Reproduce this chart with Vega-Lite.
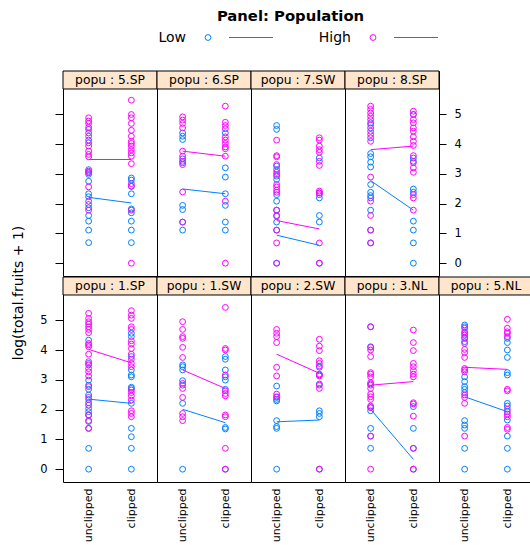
{
"$schema": "https://vega.github.io/schema/vega-lite/v6.json",
"padding": {"left": 12, "top": 9, "right": 0, "bottom": 0},
"spacing": 13,
"datasets": {
"panels": [{"popu":"5.SP"},{"popu":"6.SP"},{"popu":"7.SW"},{"popu":"8.SP"},{"popu":"1.SP"},{"popu":"1.SW"},{"popu":"2.SW"},{"popu":"3.NL"},{"popu":"5.NL"}],
"means": [
{"popu":"5.SP","amd":"unclipped","nutrient":"Low","y":2.21},{"popu":"5.SP","amd":"clipped","nutrient":"Low","y":2.02},{"popu":"5.SP","amd":"unclipped","nutrient":"High","y":3.48},{"popu":"5.SP","amd":"clipped","nutrient":"High","y":3.48},
{"popu":"6.SP","amd":"unclipped","nutrient":"Low","y":2.49},{"popu":"6.SP","amd":"clipped","nutrient":"Low","y":2.33},{"popu":"6.SP","amd":"unclipped","nutrient":"High","y":3.76},{"popu":"6.SP","amd":"clipped","nutrient":"High","y":3.59},
{"popu":"7.SW","amd":"unclipped","nutrient":"Low","y":0.94},{"popu":"7.SW","amd":"clipped","nutrient":"Low","y":0.6},{"popu":"7.SW","amd":"unclipped","nutrient":"High","y":1.43},{"popu":"7.SW","amd":"clipped","nutrient":"High","y":1.15},
{"popu":"8.SP","amd":"unclipped","nutrient":"Low","y":2.77},{"popu":"8.SP","amd":"clipped","nutrient":"Low","y":1.78},{"popu":"8.SP","amd":"unclipped","nutrient":"High","y":3.81},{"popu":"8.SP","amd":"clipped","nutrient":"High","y":3.93},
{"popu":"1.SP","amd":"unclipped","nutrient":"Low","y":2.35},{"popu":"1.SP","amd":"clipped","nutrient":"Low","y":2.21},{"popu":"1.SP","amd":"unclipped","nutrient":"High","y":4.02},{"popu":"1.SP","amd":"clipped","nutrient":"High","y":3.57},
{"popu":"1.SW","amd":"unclipped","nutrient":"Low","y":2.01},{"popu":"1.SW","amd":"clipped","nutrient":"Low","y":1.56},{"popu":"1.SW","amd":"unclipped","nutrient":"High","y":3.33},{"popu":"1.SW","amd":"clipped","nutrient":"High","y":2.71},
{"popu":"2.SW","amd":"unclipped","nutrient":"Low","y":1.59},{"popu":"2.SW","amd":"clipped","nutrient":"Low","y":1.65},{"popu":"2.SW","amd":"unclipped","nutrient":"High","y":3.86},{"popu":"2.SW","amd":"clipped","nutrient":"High","y":3.22},
{"popu":"3.NL","amd":"unclipped","nutrient":"Low","y":2.01},{"popu":"3.NL","amd":"clipped","nutrient":"Low","y":0.33},{"popu":"3.NL","amd":"unclipped","nutrient":"High","y":2.82},{"popu":"3.NL","amd":"clipped","nutrient":"High","y":2.94},
{"popu":"5.NL","amd":"unclipped","nutrient":"Low","y":2.43},{"popu":"5.NL","amd":"clipped","nutrient":"Low","y":1.93},{"popu":"5.NL","amd":"unclipped","nutrient":"High","y":3.42},{"popu":"5.NL","amd":"clipped","nutrient":"High","y":3.35}
],
"pts": [
{"popu":"5.SP","amd":"unclipped","nutrient":"Low","y":4.49},{"popu":"5.SP","amd":"unclipped","nutrient":"Low","y":4.26},{"popu":"5.SP","amd":"unclipped","nutrient":"Low","y":4.04},{"popu":"5.SP","amd":"unclipped","nutrient":"Low","y":3.14},{"popu":"5.SP","amd":"unclipped","nutrient":"Low","y":3.05},{"popu":"5.SP","amd":"unclipped","nutrient":"Low","y":2.98},{"popu":"5.SP","amd":"unclipped","nutrient":"Low","y":2.75},{"popu":"5.SP","amd":"unclipped","nutrient":"Low","y":2.33},{"popu":"5.SP","amd":"unclipped","nutrient":"Low","y":2.23},{"popu":"5.SP","amd":"unclipped","nutrient":"Low","y":1.97},{"popu":"5.SP","amd":"unclipped","nutrient":"Low","y":1.86},{"popu":"5.SP","amd":"unclipped","nutrient":"Low","y":1.6},{"popu":"5.SP","amd":"unclipped","nutrient":"Low","y":1.41},{"popu":"5.SP","amd":"unclipped","nutrient":"Low","y":1.11},{"popu":"5.SP","amd":"unclipped","nutrient":"Low","y":0.69},
{"popu":"5.SP","amd":"clipped","nutrient":"Low","y":2.86},{"popu":"5.SP","amd":"clipped","nutrient":"Low","y":2.79},{"popu":"5.SP","amd":"clipped","nutrient":"Low","y":2.58},{"popu":"5.SP","amd":"clipped","nutrient":"Low","y":2.33},{"popu":"5.SP","amd":"clipped","nutrient":"Low","y":1.82},{"popu":"5.SP","amd":"clipped","nutrient":"Low","y":1.69},{"popu":"5.SP","amd":"clipped","nutrient":"Low","y":1.41},{"popu":"5.SP","amd":"clipped","nutrient":"Low","y":1.11},{"popu":"5.SP","amd":"clipped","nutrient":"Low","y":0.69},
{"popu":"5.SP","amd":"unclipped","nutrient":"High","y":4.88},{"popu":"5.SP","amd":"unclipped","nutrient":"High","y":4.77},{"popu":"5.SP","amd":"unclipped","nutrient":"High","y":4.69},{"popu":"5.SP","amd":"unclipped","nutrient":"High","y":4.56},{"popu":"5.SP","amd":"unclipped","nutrient":"High","y":4.37},{"popu":"5.SP","amd":"unclipped","nutrient":"High","y":4.13},{"popu":"5.SP","amd":"unclipped","nutrient":"High","y":3.93},{"popu":"5.SP","amd":"unclipped","nutrient":"High","y":3.76},{"popu":"5.SP","amd":"unclipped","nutrient":"High","y":3.65},{"popu":"5.SP","amd":"unclipped","nutrient":"High","y":3.57},{"popu":"5.SP","amd":"unclipped","nutrient":"High","y":3.09},{"popu":"5.SP","amd":"unclipped","nutrient":"High","y":3.03},{"popu":"5.SP","amd":"unclipped","nutrient":"High","y":2.56},{"popu":"5.SP","amd":"unclipped","nutrient":"High","y":2.08},{"popu":"5.SP","amd":"unclipped","nutrient":"High","y":1.78},
{"popu":"5.SP","amd":"clipped","nutrient":"High","y":5.47},{"popu":"5.SP","amd":"clipped","nutrient":"High","y":4.99},{"popu":"5.SP","amd":"clipped","nutrient":"High","y":4.88},{"popu":"5.SP","amd":"clipped","nutrient":"High","y":4.69},{"popu":"5.SP","amd":"clipped","nutrient":"High","y":4.46},{"popu":"5.SP","amd":"clipped","nutrient":"High","y":4.26},{"popu":"5.SP","amd":"clipped","nutrient":"High","y":4.09},{"popu":"5.SP","amd":"clipped","nutrient":"High","y":4.02},{"popu":"5.SP","amd":"clipped","nutrient":"High","y":3.93},{"popu":"5.SP","amd":"clipped","nutrient":"High","y":3.81},{"popu":"5.SP","amd":"clipped","nutrient":"High","y":3.7},{"popu":"5.SP","amd":"clipped","nutrient":"High","y":3.59},{"popu":"5.SP","amd":"clipped","nutrient":"High","y":3.34},{"popu":"5.SP","amd":"clipped","nutrient":"High","y":2.67},{"popu":"5.SP","amd":"clipped","nutrient":"High","y":2.58},{"popu":"5.SP","amd":"clipped","nutrient":"High","y":1.78},{"popu":"5.SP","amd":"clipped","nutrient":"High","y":0},
{"popu":"6.SP","amd":"unclipped","nutrient":"Low","y":4.37},{"popu":"6.SP","amd":"unclipped","nutrient":"Low","y":4.26},{"popu":"6.SP","amd":"unclipped","nutrient":"Low","y":4.15},{"popu":"6.SP","amd":"unclipped","nutrient":"Low","y":3.5},{"popu":"6.SP","amd":"unclipped","nutrient":"Low","y":3.37},{"popu":"6.SP","amd":"unclipped","nutrient":"Low","y":1.94},{"popu":"6.SP","amd":"unclipped","nutrient":"Low","y":1.8},{"popu":"6.SP","amd":"unclipped","nutrient":"Low","y":1.38},{"popu":"6.SP","amd":"unclipped","nutrient":"Low","y":1.11},
{"popu":"6.SP","amd":"clipped","nutrient":"Low","y":4.37},{"popu":"6.SP","amd":"clipped","nutrient":"Low","y":3.2},{"popu":"6.SP","amd":"clipped","nutrient":"Low","y":2.89},{"popu":"6.SP","amd":"clipped","nutrient":"Low","y":2.33},{"popu":"6.SP","amd":"clipped","nutrient":"Low","y":1.94},{"popu":"6.SP","amd":"clipped","nutrient":"Low","y":1.38},{"popu":"6.SP","amd":"clipped","nutrient":"Low","y":1.11},
{"popu":"6.SP","amd":"unclipped","nutrient":"High","y":4.91},{"popu":"6.SP","amd":"unclipped","nutrient":"High","y":4.8},{"popu":"6.SP","amd":"unclipped","nutrient":"High","y":4.69},{"popu":"6.SP","amd":"unclipped","nutrient":"High","y":4.54},{"popu":"6.SP","amd":"unclipped","nutrient":"High","y":3.76},{"popu":"6.SP","amd":"unclipped","nutrient":"High","y":3.59},{"popu":"6.SP","amd":"unclipped","nutrient":"High","y":3.42},{"popu":"6.SP","amd":"unclipped","nutrient":"High","y":3.31},{"popu":"6.SP","amd":"unclipped","nutrient":"High","y":2.39},{"popu":"6.SP","amd":"unclipped","nutrient":"High","y":1.38},
{"popu":"6.SP","amd":"clipped","nutrient":"High","y":5.27},{"popu":"6.SP","amd":"clipped","nutrient":"High","y":4.73},{"popu":"6.SP","amd":"clipped","nutrient":"High","y":4.62},{"popu":"6.SP","amd":"clipped","nutrient":"High","y":4.51},{"popu":"6.SP","amd":"clipped","nutrient":"High","y":4.24},{"popu":"6.SP","amd":"clipped","nutrient":"High","y":4.13},{"popu":"6.SP","amd":"clipped","nutrient":"High","y":4.02},{"popu":"6.SP","amd":"clipped","nutrient":"High","y":3.9},{"popu":"6.SP","amd":"clipped","nutrient":"High","y":3.84},{"popu":"6.SP","amd":"clipped","nutrient":"High","y":3.59},{"popu":"6.SP","amd":"clipped","nutrient":"High","y":2.08},{"popu":"6.SP","amd":"clipped","nutrient":"High","y":0},
{"popu":"7.SW","amd":"unclipped","nutrient":"Low","y":4.62},{"popu":"7.SW","amd":"unclipped","nutrient":"Low","y":4.49},{"popu":"7.SW","amd":"unclipped","nutrient":"Low","y":3.26},{"popu":"7.SW","amd":"unclipped","nutrient":"Low","y":3.14},{"popu":"7.SW","amd":"unclipped","nutrient":"Low","y":2.92},{"popu":"7.SW","amd":"unclipped","nutrient":"Low","y":2.81},{"popu":"7.SW","amd":"unclipped","nutrient":"Low","y":2.3},{"popu":"7.SW","amd":"unclipped","nutrient":"Low","y":2.08},{"popu":"7.SW","amd":"unclipped","nutrient":"Low","y":1.78},{"popu":"7.SW","amd":"unclipped","nutrient":"Low","y":1.6},{"popu":"7.SW","amd":"unclipped","nutrient":"Low","y":1.38},{"popu":"7.SW","amd":"unclipped","nutrient":"Low","y":1.11},{"popu":"7.SW","amd":"unclipped","nutrient":"Low","y":0},
{"popu":"7.SW","amd":"clipped","nutrient":"Low","y":3.53},{"popu":"7.SW","amd":"clipped","nutrient":"Low","y":2.36},{"popu":"7.SW","amd":"clipped","nutrient":"Low","y":2.19},{"popu":"7.SW","amd":"clipped","nutrient":"Low","y":1.6},{"popu":"7.SW","amd":"clipped","nutrient":"Low","y":1.38},{"popu":"7.SW","amd":"clipped","nutrient":"Low","y":0},
{"popu":"7.SW","amd":"unclipped","nutrient":"High","y":4.13},{"popu":"7.SW","amd":"unclipped","nutrient":"High","y":3.61},{"popu":"7.SW","amd":"unclipped","nutrient":"High","y":3.57},{"popu":"7.SW","amd":"unclipped","nutrient":"High","y":3.31},{"popu":"7.SW","amd":"unclipped","nutrient":"High","y":3.05},{"popu":"7.SW","amd":"unclipped","nutrient":"High","y":2.98},{"popu":"7.SW","amd":"unclipped","nutrient":"High","y":2.64},{"popu":"7.SW","amd":"unclipped","nutrient":"High","y":2.56},{"popu":"7.SW","amd":"unclipped","nutrient":"High","y":2.45},{"popu":"7.SW","amd":"unclipped","nutrient":"High","y":2.38},{"popu":"7.SW","amd":"unclipped","nutrient":"High","y":1.78},{"popu":"7.SW","amd":"unclipped","nutrient":"High","y":1.58},{"popu":"7.SW","amd":"unclipped","nutrient":"High","y":1.11},{"popu":"7.SW","amd":"unclipped","nutrient":"High","y":0.68},{"popu":"7.SW","amd":"unclipped","nutrient":"High","y":0},
{"popu":"7.SW","amd":"clipped","nutrient":"High","y":4.21},{"popu":"7.SW","amd":"clipped","nutrient":"High","y":4.13},{"popu":"7.SW","amd":"clipped","nutrient":"High","y":3.93},{"popu":"7.SW","amd":"clipped","nutrient":"High","y":3.81},{"popu":"7.SW","amd":"clipped","nutrient":"High","y":3.72},{"popu":"7.SW","amd":"clipped","nutrient":"High","y":3.42},{"popu":"7.SW","amd":"clipped","nutrient":"High","y":3.28},{"popu":"7.SW","amd":"clipped","nutrient":"High","y":2.42},{"popu":"7.SW","amd":"clipped","nutrient":"High","y":2.36},{"popu":"7.SW","amd":"clipped","nutrient":"High","y":2.3},{"popu":"7.SW","amd":"clipped","nutrient":"High","y":0.68},{"popu":"7.SW","amd":"clipped","nutrient":"High","y":0},
{"popu":"8.SP","amd":"unclipped","nutrient":"Low","y":4.71},{"popu":"8.SP","amd":"unclipped","nutrient":"Low","y":4.54},{"popu":"8.SP","amd":"unclipped","nutrient":"Low","y":4.21},{"popu":"8.SP","amd":"unclipped","nutrient":"Low","y":3.68},{"popu":"8.SP","amd":"unclipped","nutrient":"Low","y":3.57},{"popu":"8.SP","amd":"unclipped","nutrient":"Low","y":3.39},{"popu":"8.SP","amd":"unclipped","nutrient":"Low","y":3.23},{"popu":"8.SP","amd":"unclipped","nutrient":"Low","y":2.64},{"popu":"8.SP","amd":"unclipped","nutrient":"Low","y":2.38},{"popu":"8.SP","amd":"unclipped","nutrient":"Low","y":2.27},{"popu":"8.SP","amd":"unclipped","nutrient":"Low","y":2.19},{"popu":"8.SP","amd":"unclipped","nutrient":"Low","y":1.78},{"popu":"8.SP","amd":"unclipped","nutrient":"Low","y":1.11},{"popu":"8.SP","amd":"unclipped","nutrient":"Low","y":0.68},
{"popu":"8.SP","amd":"clipped","nutrient":"Low","y":4.99},{"popu":"8.SP","amd":"clipped","nutrient":"Low","y":3.53},{"popu":"8.SP","amd":"clipped","nutrient":"Low","y":3.42},{"popu":"8.SP","amd":"clipped","nutrient":"Low","y":2.49},{"popu":"8.SP","amd":"clipped","nutrient":"Low","y":2.38},{"popu":"8.SP","amd":"clipped","nutrient":"Low","y":1.41},{"popu":"8.SP","amd":"clipped","nutrient":"Low","y":1.11},{"popu":"8.SP","amd":"clipped","nutrient":"Low","y":0.68},{"popu":"8.SP","amd":"clipped","nutrient":"Low","y":0},
{"popu":"8.SP","amd":"unclipped","nutrient":"High","y":5.27},{"popu":"8.SP","amd":"unclipped","nutrient":"High","y":5.16},{"popu":"8.SP","amd":"unclipped","nutrient":"High","y":5.04},{"popu":"8.SP","amd":"unclipped","nutrient":"High","y":4.93},{"popu":"8.SP","amd":"unclipped","nutrient":"High","y":4.82},{"popu":"8.SP","amd":"unclipped","nutrient":"High","y":4.65},{"popu":"8.SP","amd":"unclipped","nutrient":"High","y":4.43},{"popu":"8.SP","amd":"unclipped","nutrient":"High","y":4.32},{"popu":"8.SP","amd":"unclipped","nutrient":"High","y":4.09},{"popu":"8.SP","amd":"unclipped","nutrient":"High","y":2.89},{"popu":"8.SP","amd":"unclipped","nutrient":"High","y":2.08},{"popu":"8.SP","amd":"unclipped","nutrient":"High","y":1.6},{"popu":"8.SP","amd":"unclipped","nutrient":"High","y":1.11},{"popu":"8.SP","amd":"unclipped","nutrient":"High","y":0.68},
{"popu":"8.SP","amd":"clipped","nutrient":"High","y":5.1},{"popu":"8.SP","amd":"clipped","nutrient":"High","y":4.99},{"popu":"8.SP","amd":"clipped","nutrient":"High","y":4.82},{"popu":"8.SP","amd":"clipped","nutrient":"High","y":4.71},{"popu":"8.SP","amd":"clipped","nutrient":"High","y":4.54},{"popu":"8.SP","amd":"clipped","nutrient":"High","y":4.43},{"popu":"8.SP","amd":"clipped","nutrient":"High","y":4.24},{"popu":"8.SP","amd":"clipped","nutrient":"High","y":4.09},{"popu":"8.SP","amd":"clipped","nutrient":"High","y":3.95},{"popu":"8.SP","amd":"clipped","nutrient":"High","y":3.61},{"popu":"8.SP","amd":"clipped","nutrient":"High","y":3.37},{"popu":"8.SP","amd":"clipped","nutrient":"High","y":3.2},{"popu":"8.SP","amd":"clipped","nutrient":"High","y":3.05},{"popu":"8.SP","amd":"clipped","nutrient":"High","y":2.3},{"popu":"8.SP","amd":"clipped","nutrient":"High","y":2.19},{"popu":"8.SP","amd":"clipped","nutrient":"High","y":1.78},
{"popu":"1.SP","amd":"unclipped","nutrient":"Low","y":4.33},{"popu":"1.SP","amd":"unclipped","nutrient":"Low","y":3.55},{"popu":"1.SP","amd":"unclipped","nutrient":"Low","y":2.99},{"popu":"1.SP","amd":"unclipped","nutrient":"Low","y":2.82},{"popu":"1.SP","amd":"unclipped","nutrient":"Low","y":2.68},{"popu":"1.SP","amd":"unclipped","nutrient":"Low","y":2.49},{"popu":"1.SP","amd":"unclipped","nutrient":"Low","y":2.34},{"popu":"1.SP","amd":"unclipped","nutrient":"Low","y":2.23},{"popu":"1.SP","amd":"unclipped","nutrient":"Low","y":2.04},{"popu":"1.SP","amd":"unclipped","nutrient":"Low","y":1.93},{"popu":"1.SP","amd":"unclipped","nutrient":"Low","y":1.82},{"popu":"1.SP","amd":"unclipped","nutrient":"Low","y":1.6},{"popu":"1.SP","amd":"unclipped","nutrient":"Low","y":1.37},{"popu":"1.SP","amd":"unclipped","nutrient":"Low","y":0.7},{"popu":"1.SP","amd":"unclipped","nutrient":"Low","y":0},
{"popu":"1.SP","amd":"clipped","nutrient":"Low","y":4.56},{"popu":"1.SP","amd":"clipped","nutrient":"Low","y":4.45},{"popu":"1.SP","amd":"clipped","nutrient":"Low","y":3.78},{"popu":"1.SP","amd":"clipped","nutrient":"Low","y":3.33},{"popu":"1.SP","amd":"clipped","nutrient":"Low","y":3.16},{"popu":"1.SP","amd":"clipped","nutrient":"Low","y":3.1},{"popu":"1.SP","amd":"clipped","nutrient":"Low","y":2.75},{"popu":"1.SP","amd":"clipped","nutrient":"Low","y":2.71},{"popu":"1.SP","amd":"clipped","nutrient":"Low","y":2.21},{"popu":"1.SP","amd":"clipped","nutrient":"Low","y":1.37},{"popu":"1.SP","amd":"clipped","nutrient":"Low","y":1.09},{"popu":"1.SP","amd":"clipped","nutrient":"Low","y":0.7},{"popu":"1.SP","amd":"clipped","nutrient":"Low","y":0},
{"popu":"1.SP","amd":"unclipped","nutrient":"High","y":5.23},{"popu":"1.SP","amd":"unclipped","nutrient":"High","y":5.06},{"popu":"1.SP","amd":"unclipped","nutrient":"High","y":4.95},{"popu":"1.SP","amd":"unclipped","nutrient":"High","y":4.87},{"popu":"1.SP","amd":"unclipped","nutrient":"High","y":4.78},{"popu":"1.SP","amd":"unclipped","nutrient":"High","y":4.69},{"popu":"1.SP","amd":"unclipped","nutrient":"High","y":4.58},{"popu":"1.SP","amd":"unclipped","nutrient":"High","y":4.22},{"popu":"1.SP","amd":"unclipped","nutrient":"High","y":4.17},{"popu":"1.SP","amd":"unclipped","nutrient":"High","y":4.11},{"popu":"1.SP","amd":"unclipped","nutrient":"High","y":3.86},{"popu":"1.SP","amd":"unclipped","nutrient":"High","y":3.61},{"popu":"1.SP","amd":"unclipped","nutrient":"High","y":3.5},{"popu":"1.SP","amd":"unclipped","nutrient":"High","y":3.38},{"popu":"1.SP","amd":"unclipped","nutrient":"High","y":3.27},{"popu":"1.SP","amd":"unclipped","nutrient":"High","y":3.13},{"popu":"1.SP","amd":"unclipped","nutrient":"High","y":2.77},{"popu":"1.SP","amd":"unclipped","nutrient":"High","y":2.41},{"popu":"1.SP","amd":"unclipped","nutrient":"High","y":2.15},{"popu":"1.SP","amd":"unclipped","nutrient":"High","y":1.82},{"popu":"1.SP","amd":"unclipped","nutrient":"High","y":1.63},{"popu":"1.SP","amd":"unclipped","nutrient":"High","y":1.37},
{"popu":"1.SP","amd":"clipped","nutrient":"High","y":5.32},{"popu":"1.SP","amd":"clipped","nutrient":"High","y":5.17},{"popu":"1.SP","amd":"clipped","nutrient":"High","y":5.06},{"popu":"1.SP","amd":"clipped","nutrient":"High","y":4.78},{"popu":"1.SP","amd":"clipped","nutrient":"High","y":4.69},{"popu":"1.SP","amd":"clipped","nutrient":"High","y":4.31},{"popu":"1.SP","amd":"clipped","nutrient":"High","y":4.2},{"popu":"1.SP","amd":"clipped","nutrient":"High","y":4.05},{"popu":"1.SP","amd":"clipped","nutrient":"High","y":3.86},{"popu":"1.SP","amd":"clipped","nutrient":"High","y":3.69},{"popu":"1.SP","amd":"clipped","nutrient":"High","y":3.55},{"popu":"1.SP","amd":"clipped","nutrient":"High","y":3.44},{"popu":"1.SP","amd":"clipped","nutrient":"High","y":2.66},{"popu":"1.SP","amd":"clipped","nutrient":"High","y":2.57},{"popu":"1.SP","amd":"clipped","nutrient":"High","y":2.46},{"popu":"1.SP","amd":"clipped","nutrient":"High","y":2.32},{"popu":"1.SP","amd":"clipped","nutrient":"High","y":1.96},{"popu":"1.SP","amd":"clipped","nutrient":"High","y":1.87},{"popu":"1.SP","amd":"clipped","nutrient":"High","y":1.76},
{"popu":"1.SW","amd":"unclipped","nutrient":"Low","y":3.5},{"popu":"1.SW","amd":"unclipped","nutrient":"Low","y":3.44},{"popu":"1.SW","amd":"unclipped","nutrient":"Low","y":3.33},{"popu":"1.SW","amd":"unclipped","nutrient":"Low","y":2.97},{"popu":"1.SW","amd":"unclipped","nutrient":"Low","y":2.82},{"popu":"1.SW","amd":"unclipped","nutrient":"Low","y":2.21},{"popu":"1.SW","amd":"unclipped","nutrient":"Low","y":0},
{"popu":"1.SW","amd":"clipped","nutrient":"Low","y":3.78},{"popu":"1.SW","amd":"clipped","nutrient":"Low","y":3.69},{"popu":"1.SW","amd":"clipped","nutrient":"Low","y":3.33},{"popu":"1.SW","amd":"clipped","nutrient":"Low","y":3.1},{"popu":"1.SW","amd":"clipped","nutrient":"Low","y":2.99},{"popu":"1.SW","amd":"clipped","nutrient":"Low","y":2.68},{"popu":"1.SW","amd":"clipped","nutrient":"Low","y":1.4},{"popu":"1.SW","amd":"clipped","nutrient":"Low","y":1.35},{"popu":"1.SW","amd":"clipped","nutrient":"Low","y":0},
{"popu":"1.SW","amd":"unclipped","nutrient":"High","y":4.95},{"popu":"1.SW","amd":"unclipped","nutrient":"High","y":4.69},{"popu":"1.SW","amd":"unclipped","nutrient":"High","y":4.45},{"popu":"1.SW","amd":"unclipped","nutrient":"High","y":4.39},{"popu":"1.SW","amd":"unclipped","nutrient":"High","y":4.09},{"popu":"1.SW","amd":"unclipped","nutrient":"High","y":3.75},{"popu":"1.SW","amd":"unclipped","nutrient":"High","y":2.88},{"popu":"1.SW","amd":"unclipped","nutrient":"High","y":2.71},{"popu":"1.SW","amd":"unclipped","nutrient":"High","y":2.41},{"popu":"1.SW","amd":"unclipped","nutrient":"High","y":1.87},{"popu":"1.SW","amd":"unclipped","nutrient":"High","y":1.76},{"popu":"1.SW","amd":"unclipped","nutrient":"High","y":1.63},
{"popu":"1.SW","amd":"clipped","nutrient":"High","y":5.43},{"popu":"1.SW","amd":"clipped","nutrient":"High","y":4.05},{"popu":"1.SW","amd":"clipped","nutrient":"High","y":4.0},{"popu":"1.SW","amd":"clipped","nutrient":"High","y":3.16},{"popu":"1.SW","amd":"clipped","nutrient":"High","y":2.63},{"popu":"1.SW","amd":"clipped","nutrient":"High","y":2.54},{"popu":"1.SW","amd":"clipped","nutrient":"High","y":2.46},{"popu":"1.SW","amd":"clipped","nutrient":"High","y":1.82},{"popu":"1.SW","amd":"clipped","nutrient":"High","y":1.76},{"popu":"1.SW","amd":"clipped","nutrient":"High","y":0.7},{"popu":"1.SW","amd":"clipped","nutrient":"High","y":0},
{"popu":"2.SW","amd":"unclipped","nutrient":"Low","y":2.79},{"popu":"2.SW","amd":"unclipped","nutrient":"Low","y":2.41},{"popu":"2.SW","amd":"unclipped","nutrient":"Low","y":2.34},{"popu":"2.SW","amd":"unclipped","nutrient":"Low","y":2.29},{"popu":"2.SW","amd":"unclipped","nutrient":"Low","y":1.63},{"popu":"2.SW","amd":"unclipped","nutrient":"Low","y":1.43},{"popu":"2.SW","amd":"unclipped","nutrient":"Low","y":1.37},{"popu":"2.SW","amd":"unclipped","nutrient":"Low","y":0},
{"popu":"2.SW","amd":"clipped","nutrient":"Low","y":3.42},{"popu":"2.SW","amd":"clipped","nutrient":"Low","y":3.16},{"popu":"2.SW","amd":"clipped","nutrient":"Low","y":2.86},{"popu":"2.SW","amd":"clipped","nutrient":"Low","y":1.96},{"popu":"2.SW","amd":"clipped","nutrient":"Low","y":1.87},{"popu":"2.SW","amd":"clipped","nutrient":"Low","y":1.76},{"popu":"2.SW","amd":"clipped","nutrient":"Low","y":0},
{"popu":"2.SW","amd":"unclipped","nutrient":"High","y":4.69},{"popu":"2.SW","amd":"unclipped","nutrient":"High","y":4.56},{"popu":"2.SW","amd":"unclipped","nutrient":"High","y":4.45},{"popu":"2.SW","amd":"unclipped","nutrient":"High","y":4.25},{"popu":"2.SW","amd":"unclipped","nutrient":"High","y":3.42},{"popu":"2.SW","amd":"unclipped","nutrient":"High","y":3.13},{"popu":"2.SW","amd":"unclipped","nutrient":"High","y":2.52},{"popu":"2.SW","amd":"unclipped","nutrient":"High","y":2.43},
{"popu":"2.SW","amd":"clipped","nutrient":"High","y":4.36},{"popu":"2.SW","amd":"clipped","nutrient":"High","y":4.13},{"popu":"2.SW","amd":"clipped","nutrient":"High","y":3.98},{"popu":"2.SW","amd":"clipped","nutrient":"High","y":3.64},{"popu":"2.SW","amd":"clipped","nutrient":"High","y":3.55},{"popu":"2.SW","amd":"clipped","nutrient":"High","y":3.46},{"popu":"2.SW","amd":"clipped","nutrient":"High","y":3.19},{"popu":"2.SW","amd":"clipped","nutrient":"High","y":3.13},{"popu":"2.SW","amd":"clipped","nutrient":"High","y":2.82},{"popu":"2.SW","amd":"clipped","nutrient":"High","y":2.71},{"popu":"2.SW","amd":"clipped","nutrient":"High","y":0},
{"popu":"3.NL","amd":"unclipped","nutrient":"Low","y":4.78},{"popu":"3.NL","amd":"unclipped","nutrient":"Low","y":4.11},{"popu":"3.NL","amd":"unclipped","nutrient":"Low","y":2.86},{"popu":"3.NL","amd":"unclipped","nutrient":"Low","y":2.07},{"popu":"3.NL","amd":"unclipped","nutrient":"Low","y":1.96},{"popu":"3.NL","amd":"unclipped","nutrient":"Low","y":1.37},{"popu":"3.NL","amd":"unclipped","nutrient":"Low","y":1.11},{"popu":"3.NL","amd":"unclipped","nutrient":"Low","y":0.7},
{"popu":"3.NL","amd":"clipped","nutrient":"Low","y":2.1},{"popu":"3.NL","amd":"clipped","nutrient":"Low","y":1.37},{"popu":"3.NL","amd":"clipped","nutrient":"Low","y":0.7},{"popu":"3.NL","amd":"clipped","nutrient":"Low","y":0},
{"popu":"3.NL","amd":"unclipped","nutrient":"High","y":4.78},{"popu":"3.NL","amd":"unclipped","nutrient":"High","y":4.09},{"popu":"3.NL","amd":"unclipped","nutrient":"High","y":4.0},{"popu":"3.NL","amd":"unclipped","nutrient":"High","y":3.78},{"popu":"3.NL","amd":"unclipped","nutrient":"High","y":3.24},{"popu":"3.NL","amd":"unclipped","nutrient":"High","y":3.19},{"popu":"3.NL","amd":"unclipped","nutrient":"High","y":3.1},{"popu":"3.NL","amd":"unclipped","nutrient":"High","y":2.9},{"popu":"3.NL","amd":"unclipped","nutrient":"High","y":2.82},{"popu":"3.NL","amd":"unclipped","nutrient":"High","y":2.71},{"popu":"3.NL","amd":"unclipped","nutrient":"High","y":2.52},{"popu":"3.NL","amd":"unclipped","nutrient":"High","y":2.43},{"popu":"3.NL","amd":"unclipped","nutrient":"High","y":2.34},{"popu":"3.NL","amd":"unclipped","nutrient":"High","y":2.12},{"popu":"3.NL","amd":"unclipped","nutrient":"High","y":2.07},{"popu":"3.NL","amd":"unclipped","nutrient":"High","y":1.11},{"popu":"3.NL","amd":"unclipped","nutrient":"High","y":0},
{"popu":"3.NL","amd":"clipped","nutrient":"High","y":4.67},{"popu":"3.NL","amd":"clipped","nutrient":"High","y":4.25},{"popu":"3.NL","amd":"clipped","nutrient":"High","y":3.98},{"popu":"3.NL","amd":"clipped","nutrient":"High","y":3.55},{"popu":"3.NL","amd":"clipped","nutrient":"High","y":3.44},{"popu":"3.NL","amd":"clipped","nutrient":"High","y":3.31},{"popu":"3.NL","amd":"clipped","nutrient":"High","y":3.19},{"popu":"3.NL","amd":"clipped","nutrient":"High","y":3.1},{"popu":"3.NL","amd":"clipped","nutrient":"High","y":2.23},{"popu":"3.NL","amd":"clipped","nutrient":"High","y":2.19},{"popu":"3.NL","amd":"clipped","nutrient":"High","y":1.78},{"popu":"3.NL","amd":"clipped","nutrient":"High","y":0.7},{"popu":"3.NL","amd":"clipped","nutrient":"High","y":0},
{"popu":"5.NL","amd":"unclipped","nutrient":"Low","y":4.84},{"popu":"5.NL","amd":"unclipped","nutrient":"Low","y":4.78},{"popu":"5.NL","amd":"unclipped","nutrient":"Low","y":4.56},{"popu":"5.NL","amd":"unclipped","nutrient":"Low","y":4.39},{"popu":"5.NL","amd":"unclipped","nutrient":"Low","y":4.28},{"popu":"5.NL","amd":"unclipped","nutrient":"Low","y":3.1},{"popu":"5.NL","amd":"unclipped","nutrient":"Low","y":2.94},{"popu":"5.NL","amd":"unclipped","nutrient":"Low","y":2.77},{"popu":"5.NL","amd":"unclipped","nutrient":"Low","y":2.68},{"popu":"5.NL","amd":"unclipped","nutrient":"Low","y":2.57},{"popu":"5.NL","amd":"unclipped","nutrient":"Low","y":1.63},{"popu":"5.NL","amd":"unclipped","nutrient":"Low","y":1.48},{"popu":"5.NL","amd":"unclipped","nutrient":"Low","y":1.37},{"popu":"5.NL","amd":"unclipped","nutrient":"Low","y":0.7},{"popu":"5.NL","amd":"unclipped","nutrient":"Low","y":0},
{"popu":"5.NL","amd":"clipped","nutrient":"Low","y":4.39},{"popu":"5.NL","amd":"clipped","nutrient":"Low","y":4.25},{"popu":"5.NL","amd":"clipped","nutrient":"Low","y":4.0},{"popu":"5.NL","amd":"clipped","nutrient":"Low","y":3.75},{"popu":"5.NL","amd":"clipped","nutrient":"Low","y":3.24},{"popu":"5.NL","amd":"clipped","nutrient":"Low","y":3.16},{"popu":"5.NL","amd":"clipped","nutrient":"Low","y":2.21},{"popu":"5.NL","amd":"clipped","nutrient":"Low","y":2.12},{"popu":"5.NL","amd":"clipped","nutrient":"Low","y":1.93},{"popu":"5.NL","amd":"clipped","nutrient":"Low","y":1.65},{"popu":"5.NL","amd":"clipped","nutrient":"Low","y":1.11},{"popu":"5.NL","amd":"clipped","nutrient":"Low","y":0.7},{"popu":"5.NL","amd":"clipped","nutrient":"Low","y":0},
{"popu":"5.NL","amd":"unclipped","nutrient":"High","y":4.73},{"popu":"5.NL","amd":"unclipped","nutrient":"High","y":4.61},{"popu":"5.NL","amd":"unclipped","nutrient":"High","y":4.5},{"popu":"5.NL","amd":"unclipped","nutrient":"High","y":4.42},{"popu":"5.NL","amd":"unclipped","nutrient":"High","y":4.22},{"popu":"5.NL","amd":"unclipped","nutrient":"High","y":4.02},{"popu":"5.NL","amd":"unclipped","nutrient":"High","y":3.91},{"popu":"5.NL","amd":"unclipped","nutrient":"High","y":3.75},{"popu":"5.NL","amd":"unclipped","nutrient":"High","y":3.38},{"popu":"5.NL","amd":"unclipped","nutrient":"High","y":3.33},{"popu":"5.NL","amd":"unclipped","nutrient":"High","y":3.27},{"popu":"5.NL","amd":"unclipped","nutrient":"High","y":2.49},{"popu":"5.NL","amd":"unclipped","nutrient":"High","y":2.41},{"popu":"5.NL","amd":"unclipped","nutrient":"High","y":2.21},{"popu":"5.NL","amd":"unclipped","nutrient":"High","y":1.11},
{"popu":"5.NL","amd":"clipped","nutrient":"High","y":5.03},{"popu":"5.NL","amd":"clipped","nutrient":"High","y":4.73},{"popu":"5.NL","amd":"clipped","nutrient":"High","y":4.61},{"popu":"5.NL","amd":"clipped","nutrient":"High","y":4.56},{"popu":"5.NL","amd":"clipped","nutrient":"High","y":4.45},{"popu":"5.NL","amd":"clipped","nutrient":"High","y":2.68},{"popu":"5.NL","amd":"clipped","nutrient":"High","y":2.63},{"popu":"5.NL","amd":"clipped","nutrient":"High","y":2.01},{"popu":"5.NL","amd":"clipped","nutrient":"High","y":1.85},{"popu":"5.NL","amd":"clipped","nutrient":"High","y":1.76},{"popu":"5.NL","amd":"clipped","nutrient":"High","y":1.4},{"popu":"5.NL","amd":"clipped","nutrient":"High","y":1.34}
]
},
"hconcat": [
{"width": 14, "height": 532, "view": {"stroke": null},
 "data": {"values": [{"label": "log(total.fruits + 1)"}]},
 "mark": {"type": "text", "angle": 270, "fontSize": 14, "align": "center", "baseline": "middle"},
 "encoding": {"text": {"field": "label", "type": "nominal"}}},
{"spacing": -2, "vconcat": [
{"width": 455, "height": 44, "view": {"stroke": null},
 "title": {"text": "Panel: Population", "anchor": "middle", "offset": 3},
 "data": {"values": [{"nutrient":"Low"},{"nutrient":"High"}]},
 "encoding": {"x": {"field":"nutrient","type":"nominal","scale":{"type":"point","domain":["Low","High"],"padding":0.879},"axis":null},
   "color": {"field":"nutrient","type":"nominal","scale":{"domain":["Low","High"],"range":["#0080ff","#ff00ff"]},"legend":null}},
 "layer": [
  {"mark":{"type":"text","align":"right","baseline":"middle","xOffset":-22,"yOffset":-11.5,"fontSize":14},"encoding":{"text":{"field":"nutrient","type":"nominal"},"color":{"value":"#000"}}},
  {"mark":{"type":"point","yOffset":-11.5}},
  {"mark":{"type":"point","shape":"M-1,0L1,0","size":1936,"xOffset":43,"yOffset":-11.5}}
 ]},
{"spacing": 0, "bounds": "flush", "hconcat": [
 {"width":94,"height":205,"layer":[
  {"data":{"name":"panels"},"transform":[{"filter":"datum.popu=='5.SP'"},{"calculate":"'popu : '+datum.popu","as":"label"}],"layer":[
   {"mark":{"type":"rect","fill":"#ffe5cc","stroke":"#000","strokeWidth":1},"encoding":{"y":{"datum":5.846,"type":"quantitative","scale":{"domain":[-0.43,6.45],"nice":false,"zero":false},"axis":{"orient":"left","values":[0,1,2,3,4,5],"labels":false,"tickSize":8,"title":null}},"y2":{"datum":6.45}}},
   {"mark":{"type":"text","fontSize":12.3,"baseline":"middle"},"encoding":{"y":{"datum":6.148,"type":"quantitative","scale":{"domain":[-0.43,6.45],"nice":false,"zero":false},"axis":{"orient":"left","values":[0,1,2,3,4,5],"labels":false,"tickSize":8,"title":null}},"text":{"field":"label","type":"nominal"}}}]},
  {"data":{"name":"pts"},"transform":[{"filter":"datum.popu=='5.SP'"}],"mark":"point","encoding":{"x":{"field":"amd","type":"nominal","scale":{"type":"point","domain":["unclipped","clipped"],"padding":0.6},"axis":null},"y":{"field":"y","type":"quantitative","scale":{"domain":[-0.43,6.45],"nice":false,"zero":false},"axis":{"orient":"left","values":[0,1,2,3,4,5],"labels":false,"tickSize":8,"title":null}},"color":{"field":"nutrient","type":"nominal","scale":{"domain":["Low","High"],"range":["#0080ff","#ff00ff"]},"legend":null}}},
  {"data":{"name":"means"},"transform":[{"filter":"datum.popu=='5.SP'"}],"mark":"line","encoding":{"x":{"field":"amd","type":"nominal","scale":{"type":"point","domain":["unclipped","clipped"],"padding":0.6},"axis":null},"y":{"field":"y","type":"quantitative","scale":{"domain":[-0.43,6.45],"nice":false,"zero":false},"axis":{"orient":"left","values":[0,1,2,3,4,5],"labels":false,"tickSize":8,"title":null}},"color":{"field":"nutrient","type":"nominal","scale":{"domain":["Low","High"],"range":["#0080ff","#ff00ff"]},"legend":null}}}
 ]},
 {"width":94,"height":205,"layer":[
  {"data":{"name":"panels"},"transform":[{"filter":"datum.popu=='6.SP'"},{"calculate":"'popu : '+datum.popu","as":"label"}],"layer":[
   {"mark":{"type":"rect","fill":"#ffe5cc","stroke":"#000","strokeWidth":1},"encoding":{"y":{"datum":5.846,"type":"quantitative","scale":{"domain":[-0.43,6.45],"nice":false,"zero":false},"axis":null},"y2":{"datum":6.45}}},
   {"mark":{"type":"text","fontSize":12.3,"baseline":"middle"},"encoding":{"y":{"datum":6.148,"type":"quantitative","scale":{"domain":[-0.43,6.45],"nice":false,"zero":false},"axis":null},"text":{"field":"label","type":"nominal"}}}]},
  {"data":{"name":"pts"},"transform":[{"filter":"datum.popu=='6.SP'"}],"mark":"point","encoding":{"x":{"field":"amd","type":"nominal","scale":{"type":"point","domain":["unclipped","clipped"],"padding":0.6},"axis":null},"y":{"field":"y","type":"quantitative","scale":{"domain":[-0.43,6.45],"nice":false,"zero":false},"axis":null},"color":{"field":"nutrient","type":"nominal","scale":{"domain":["Low","High"],"range":["#0080ff","#ff00ff"]},"legend":null}}},
  {"data":{"name":"means"},"transform":[{"filter":"datum.popu=='6.SP'"}],"mark":"line","encoding":{"x":{"field":"amd","type":"nominal","scale":{"type":"point","domain":["unclipped","clipped"],"padding":0.6},"axis":null},"y":{"field":"y","type":"quantitative","scale":{"domain":[-0.43,6.45],"nice":false,"zero":false},"axis":null},"color":{"field":"nutrient","type":"nominal","scale":{"domain":["Low","High"],"range":["#0080ff","#ff00ff"]},"legend":null}}}
 ]},
 {"width":94,"height":205,"layer":[
  {"data":{"name":"panels"},"transform":[{"filter":"datum.popu=='7.SW'"},{"calculate":"'popu : '+datum.popu","as":"label"}],"layer":[
   {"mark":{"type":"rect","fill":"#ffe5cc","stroke":"#000","strokeWidth":1},"encoding":{"y":{"datum":5.846,"type":"quantitative","scale":{"domain":[-0.43,6.45],"nice":false,"zero":false},"axis":null},"y2":{"datum":6.45}}},
   {"mark":{"type":"text","fontSize":12.3,"baseline":"middle"},"encoding":{"y":{"datum":6.148,"type":"quantitative","scale":{"domain":[-0.43,6.45],"nice":false,"zero":false},"axis":null},"text":{"field":"label","type":"nominal"}}}]},
  {"data":{"name":"pts"},"transform":[{"filter":"datum.popu=='7.SW'"}],"mark":"point","encoding":{"x":{"field":"amd","type":"nominal","scale":{"type":"point","domain":["unclipped","clipped"],"padding":0.6},"axis":null},"y":{"field":"y","type":"quantitative","scale":{"domain":[-0.43,6.45],"nice":false,"zero":false},"axis":null},"color":{"field":"nutrient","type":"nominal","scale":{"domain":["Low","High"],"range":["#0080ff","#ff00ff"]},"legend":null}}},
  {"data":{"name":"means"},"transform":[{"filter":"datum.popu=='7.SW'"}],"mark":"line","encoding":{"x":{"field":"amd","type":"nominal","scale":{"type":"point","domain":["unclipped","clipped"],"padding":0.6},"axis":null},"y":{"field":"y","type":"quantitative","scale":{"domain":[-0.43,6.45],"nice":false,"zero":false},"axis":null},"color":{"field":"nutrient","type":"nominal","scale":{"domain":["Low","High"],"range":["#0080ff","#ff00ff"]},"legend":null}}}
 ]},
 {"width":94,"height":205,"layer":[
  {"data":{"name":"panels"},"transform":[{"filter":"datum.popu=='8.SP'"},{"calculate":"'popu : '+datum.popu","as":"label"}],"layer":[
   {"mark":{"type":"rect","fill":"#ffe5cc","stroke":"#000","strokeWidth":1},"encoding":{"y":{"datum":5.846,"type":"quantitative","scale":{"domain":[-0.43,6.45],"nice":false,"zero":false},"axis":{"orient":"right","values":[0,1,2,3,4,5],"tickSize":7,"labelPadding":8,"title":null}},"y2":{"datum":6.45}}},
   {"mark":{"type":"text","fontSize":12.3,"baseline":"middle"},"encoding":{"y":{"datum":6.148,"type":"quantitative","scale":{"domain":[-0.43,6.45],"nice":false,"zero":false},"axis":{"orient":"right","values":[0,1,2,3,4,5],"tickSize":7,"labelPadding":8,"title":null}},"text":{"field":"label","type":"nominal"}}}]},
  {"data":{"name":"pts"},"transform":[{"filter":"datum.popu=='8.SP'"}],"mark":"point","encoding":{"x":{"field":"amd","type":"nominal","scale":{"type":"point","domain":["unclipped","clipped"],"padding":0.6},"axis":null},"y":{"field":"y","type":"quantitative","scale":{"domain":[-0.43,6.45],"nice":false,"zero":false},"axis":{"orient":"right","values":[0,1,2,3,4,5],"tickSize":7,"labelPadding":8,"title":null}},"color":{"field":"nutrient","type":"nominal","scale":{"domain":["Low","High"],"range":["#0080ff","#ff00ff"]},"legend":null}}},
  {"data":{"name":"means"},"transform":[{"filter":"datum.popu=='8.SP'"}],"mark":"line","encoding":{"x":{"field":"amd","type":"nominal","scale":{"type":"point","domain":["unclipped","clipped"],"padding":0.6},"axis":null},"y":{"field":"y","type":"quantitative","scale":{"domain":[-0.43,6.45],"nice":false,"zero":false},"axis":{"orient":"right","values":[0,1,2,3,4,5],"tickSize":7,"labelPadding":8,"title":null}},"color":{"field":"nutrient","type":"nominal","scale":{"domain":["Low","High"],"range":["#0080ff","#ff00ff"]},"legend":null}}}
 ]}
]},
{"spacing": 0, "bounds": "flush", "hconcat": [
 {"width":94,"height":205,"layer":[
  {"data":{"name":"panels"},"transform":[{"filter":"datum.popu=='1.SP'"},{"calculate":"'popu : '+datum.popu","as":"label"}],"layer":[
   {"mark":{"type":"rect","fill":"#ffe5cc","stroke":"#000","strokeWidth":1},"encoding":{"y":{"datum":5.846,"type":"quantitative","scale":{"domain":[-0.43,6.45],"nice":false,"zero":false},"axis":{"orient":"left","values":[0,1,2,3,4,5],"tickSize":8,"labelPadding":8,"title":null}},"y2":{"datum":6.45}}},
   {"mark":{"type":"text","fontSize":12.3,"baseline":"middle"},"encoding":{"y":{"datum":6.148,"type":"quantitative","scale":{"domain":[-0.43,6.45],"nice":false,"zero":false},"axis":{"orient":"left","values":[0,1,2,3,4,5],"tickSize":8,"labelPadding":8,"title":null}},"text":{"field":"label","type":"nominal"}}}]},
  {"data":{"name":"pts"},"transform":[{"filter":"datum.popu=='1.SP'"}],"mark":"point","encoding":{"x":{"field":"amd","type":"nominal","scale":{"type":"point","domain":["unclipped","clipped"],"padding":0.6},"axis":{"title":null,"labelAngle":-90,"ticks":false,"labelPadding":6}},"y":{"field":"y","type":"quantitative","scale":{"domain":[-0.43,6.45],"nice":false,"zero":false},"axis":{"orient":"left","values":[0,1,2,3,4,5],"tickSize":8,"labelPadding":8,"title":null}},"color":{"field":"nutrient","type":"nominal","scale":{"domain":["Low","High"],"range":["#0080ff","#ff00ff"]},"legend":null}}},
  {"data":{"name":"means"},"transform":[{"filter":"datum.popu=='1.SP'"}],"mark":"line","encoding":{"x":{"field":"amd","type":"nominal","scale":{"type":"point","domain":["unclipped","clipped"],"padding":0.6},"axis":{"title":null,"labelAngle":-90,"ticks":false,"labelPadding":6}},"y":{"field":"y","type":"quantitative","scale":{"domain":[-0.43,6.45],"nice":false,"zero":false},"axis":{"orient":"left","values":[0,1,2,3,4,5],"tickSize":8,"labelPadding":8,"title":null}},"color":{"field":"nutrient","type":"nominal","scale":{"domain":["Low","High"],"range":["#0080ff","#ff00ff"]},"legend":null}}}
 ]},
 {"width":94,"height":205,"layer":[
  {"data":{"name":"panels"},"transform":[{"filter":"datum.popu=='1.SW'"},{"calculate":"'popu : '+datum.popu","as":"label"}],"layer":[
   {"mark":{"type":"rect","fill":"#ffe5cc","stroke":"#000","strokeWidth":1},"encoding":{"y":{"datum":5.846,"type":"quantitative","scale":{"domain":[-0.43,6.45],"nice":false,"zero":false},"axis":null},"y2":{"datum":6.45}}},
   {"mark":{"type":"text","fontSize":12.3,"baseline":"middle"},"encoding":{"y":{"datum":6.148,"type":"quantitative","scale":{"domain":[-0.43,6.45],"nice":false,"zero":false},"axis":null},"text":{"field":"label","type":"nominal"}}}]},
  {"data":{"name":"pts"},"transform":[{"filter":"datum.popu=='1.SW'"}],"mark":"point","encoding":{"x":{"field":"amd","type":"nominal","scale":{"type":"point","domain":["unclipped","clipped"],"padding":0.6},"axis":{"title":null,"labelAngle":-90,"ticks":false,"labelPadding":6}},"y":{"field":"y","type":"quantitative","scale":{"domain":[-0.43,6.45],"nice":false,"zero":false},"axis":null},"color":{"field":"nutrient","type":"nominal","scale":{"domain":["Low","High"],"range":["#0080ff","#ff00ff"]},"legend":null}}},
  {"data":{"name":"means"},"transform":[{"filter":"datum.popu=='1.SW'"}],"mark":"line","encoding":{"x":{"field":"amd","type":"nominal","scale":{"type":"point","domain":["unclipped","clipped"],"padding":0.6},"axis":{"title":null,"labelAngle":-90,"ticks":false,"labelPadding":6}},"y":{"field":"y","type":"quantitative","scale":{"domain":[-0.43,6.45],"nice":false,"zero":false},"axis":null},"color":{"field":"nutrient","type":"nominal","scale":{"domain":["Low","High"],"range":["#0080ff","#ff00ff"]},"legend":null}}}
 ]},
 {"width":94,"height":205,"layer":[
  {"data":{"name":"panels"},"transform":[{"filter":"datum.popu=='2.SW'"},{"calculate":"'popu : '+datum.popu","as":"label"}],"layer":[
   {"mark":{"type":"rect","fill":"#ffe5cc","stroke":"#000","strokeWidth":1},"encoding":{"y":{"datum":5.846,"type":"quantitative","scale":{"domain":[-0.43,6.45],"nice":false,"zero":false},"axis":null},"y2":{"datum":6.45}}},
   {"mark":{"type":"text","fontSize":12.3,"baseline":"middle"},"encoding":{"y":{"datum":6.148,"type":"quantitative","scale":{"domain":[-0.43,6.45],"nice":false,"zero":false},"axis":null},"text":{"field":"label","type":"nominal"}}}]},
  {"data":{"name":"pts"},"transform":[{"filter":"datum.popu=='2.SW'"}],"mark":"point","encoding":{"x":{"field":"amd","type":"nominal","scale":{"type":"point","domain":["unclipped","clipped"],"padding":0.6},"axis":{"title":null,"labelAngle":-90,"ticks":false,"labelPadding":6}},"y":{"field":"y","type":"quantitative","scale":{"domain":[-0.43,6.45],"nice":false,"zero":false},"axis":null},"color":{"field":"nutrient","type":"nominal","scale":{"domain":["Low","High"],"range":["#0080ff","#ff00ff"]},"legend":null}}},
  {"data":{"name":"means"},"transform":[{"filter":"datum.popu=='2.SW'"}],"mark":"line","encoding":{"x":{"field":"amd","type":"nominal","scale":{"type":"point","domain":["unclipped","clipped"],"padding":0.6},"axis":{"title":null,"labelAngle":-90,"ticks":false,"labelPadding":6}},"y":{"field":"y","type":"quantitative","scale":{"domain":[-0.43,6.45],"nice":false,"zero":false},"axis":null},"color":{"field":"nutrient","type":"nominal","scale":{"domain":["Low","High"],"range":["#0080ff","#ff00ff"]},"legend":null}}}
 ]},
 {"width":94,"height":205,"layer":[
  {"data":{"name":"panels"},"transform":[{"filter":"datum.popu=='3.NL'"},{"calculate":"'popu : '+datum.popu","as":"label"}],"layer":[
   {"mark":{"type":"rect","fill":"#ffe5cc","stroke":"#000","strokeWidth":1},"encoding":{"y":{"datum":5.846,"type":"quantitative","scale":{"domain":[-0.43,6.45],"nice":false,"zero":false},"axis":null},"y2":{"datum":6.45}}},
   {"mark":{"type":"text","fontSize":12.3,"baseline":"middle"},"encoding":{"y":{"datum":6.148,"type":"quantitative","scale":{"domain":[-0.43,6.45],"nice":false,"zero":false},"axis":null},"text":{"field":"label","type":"nominal"}}}]},
  {"data":{"name":"pts"},"transform":[{"filter":"datum.popu=='3.NL'"}],"mark":"point","encoding":{"x":{"field":"amd","type":"nominal","scale":{"type":"point","domain":["unclipped","clipped"],"padding":0.6},"axis":{"title":null,"labelAngle":-90,"ticks":false,"labelPadding":6}},"y":{"field":"y","type":"quantitative","scale":{"domain":[-0.43,6.45],"nice":false,"zero":false},"axis":null},"color":{"field":"nutrient","type":"nominal","scale":{"domain":["Low","High"],"range":["#0080ff","#ff00ff"]},"legend":null}}},
  {"data":{"name":"means"},"transform":[{"filter":"datum.popu=='3.NL'"}],"mark":"line","encoding":{"x":{"field":"amd","type":"nominal","scale":{"type":"point","domain":["unclipped","clipped"],"padding":0.6},"axis":{"title":null,"labelAngle":-90,"ticks":false,"labelPadding":6}},"y":{"field":"y","type":"quantitative","scale":{"domain":[-0.43,6.45],"nice":false,"zero":false},"axis":null},"color":{"field":"nutrient","type":"nominal","scale":{"domain":["Low","High"],"range":["#0080ff","#ff00ff"]},"legend":null}}}
 ]},
 {"width":94,"height":205,"layer":[
  {"data":{"name":"panels"},"transform":[{"filter":"datum.popu=='5.NL'"},{"calculate":"'popu : '+datum.popu","as":"label"}],"layer":[
   {"mark":{"type":"rect","fill":"#ffe5cc","stroke":"#000","strokeWidth":1},"encoding":{"y":{"datum":5.846,"type":"quantitative","scale":{"domain":[-0.43,6.45],"nice":false,"zero":false},"axis":null},"y2":{"datum":6.45}}},
   {"mark":{"type":"text","fontSize":12.3,"baseline":"middle"},"encoding":{"y":{"datum":6.148,"type":"quantitative","scale":{"domain":[-0.43,6.45],"nice":false,"zero":false},"axis":null},"text":{"field":"label","type":"nominal"}}}]},
  {"data":{"name":"pts"},"transform":[{"filter":"datum.popu=='5.NL'"}],"mark":"point","encoding":{"x":{"field":"amd","type":"nominal","scale":{"type":"point","domain":["unclipped","clipped"],"padding":0.6},"axis":{"title":null,"labelAngle":-90,"ticks":false,"labelPadding":6}},"y":{"field":"y","type":"quantitative","scale":{"domain":[-0.43,6.45],"nice":false,"zero":false},"axis":null},"color":{"field":"nutrient","type":"nominal","scale":{"domain":["Low","High"],"range":["#0080ff","#ff00ff"]},"legend":null}}},
  {"data":{"name":"means"},"transform":[{"filter":"datum.popu=='5.NL'"}],"mark":"line","encoding":{"x":{"field":"amd","type":"nominal","scale":{"type":"point","domain":["unclipped","clipped"],"padding":0.6},"axis":{"title":null,"labelAngle":-90,"ticks":false,"labelPadding":6}},"y":{"field":"y","type":"quantitative","scale":{"domain":[-0.43,6.45],"nice":false,"zero":false},"axis":null},"color":{"field":"nutrient","type":"nominal","scale":{"domain":["Low","High"],"range":["#0080ff","#ff00ff"]},"legend":null}}}
 ]}
]}
]}
],
"config": {
 "font": "DejaVu Sans",
 "view": {"stroke": "#000", "strokeWidth": 1},
 "axis": {"domain": false, "grid": false, "labelFont": "DejaVu Sans", "labelFontSize": 11.5, "labelColor": "#000", "tickColor": "#000", "titleFont": "DejaVu Sans", "titleFontSize": 14, "titleFontWeight": "normal", "titleColor": "#000"},
 "axisX": {"labelFontSize": 11},
 "point": {"filled": false, "size": 34, "strokeWidth": 1, "opacity": 1},
 "line": {"strokeWidth": 1},
 "text": {"font": "DejaVu Sans", "color": "#000"},
 "title": {"font": "DejaVu Sans", "fontSize": 14.8, "fontWeight": "bold", "color": "#000"}
}
}
